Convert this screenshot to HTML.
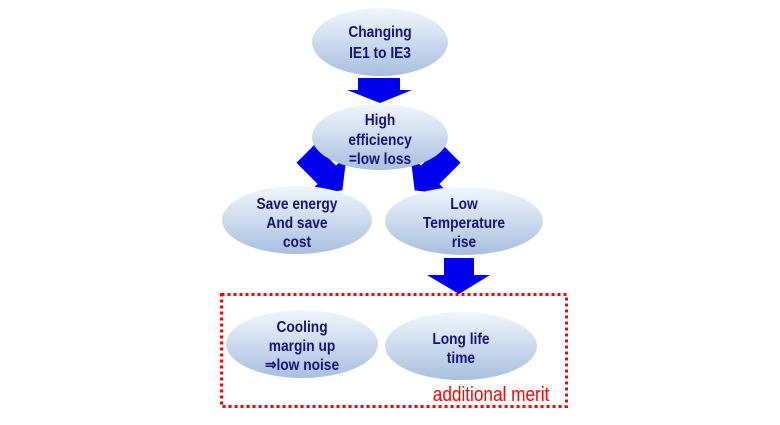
<!DOCTYPE html>
<html><head><style>
body{margin:0;width:780px;height:420px;background:#fff;overflow:hidden}
text{font-family:"Liberation Sans",sans-serif;font-weight:bold;font-size:16px;fill:#14147a;text-anchor:middle}
</style></head><body>
<svg width="780" height="420" viewBox="0 0 780 420">
<defs>
<linearGradient id="g" x1="0" y1="0" x2="0" y2="1">
<stop offset="0" stop-color="#f2f6fb"/><stop offset="1" stop-color="#a8bfdf"/>
</linearGradient>
<g id="ar"><polygon points="-13,-26 13,-26 13,4 28,4 0,26 -28,4 -13,4" fill="#0000ee"/></g>
</defs>
<g transform="translate(324,172) rotate(-45)"><use href="#ar"/></g>
<g transform="translate(433,172) rotate(45)"><use href="#ar"/></g>
<ellipse cx="380" cy="42" rx="68" ry="34" fill="url(#g)"/>
<ellipse cx="380" cy="137" rx="68" ry="33" fill="url(#g)"/>
<ellipse cx="297" cy="220" rx="75" ry="34" fill="url(#g)"/>
<ellipse cx="464" cy="221" rx="79" ry="34" fill="url(#g)"/>
<ellipse cx="302" cy="344" rx="76" ry="34" fill="url(#g)"/>
<ellipse cx="461" cy="346" rx="76" ry="34" fill="url(#g)"/>
<polygon points="358,78 400,78 400,90 412,90 380,103 347,90 358,90" fill="#0000ee"/>
<polygon points="444,258 474,258 474,275 490,275 459,294 427,275 444,275" fill="#0000ee"/>
<rect x="221.5" y="294.5" width="345" height="112" fill="none" stroke="#ff0000" stroke-width="3" stroke-dasharray="3,3"/>
<g transform="scale(0.86,1)">
<text x="441.9" y="37">Changing</text><text x="441.9" y="58">IE1 to IE3</text>
<text x="441.9" y="125">High</text><text x="441.9" y="145">efficiency</text><text x="441.9" y="164">=low loss</text>
<text x="345.3" y="209">Save energy</text><text x="345.3" y="228">And save</text><text x="345.3" y="247">cost</text>
<text x="539.5" y="209">Low</text><text x="539.5" y="228">Temperature</text><text x="539.5" y="247">rise</text>
<text x="351.2" y="332">Cooling</text><text x="351.2" y="351">margin up</text><text x="351.2" y="370">⇒low noise</text>
<text x="536" y="344">Long life</text><text x="536" y="363">time</text>
<text x="571" y="401" style="fill:#ff0000;font-weight:normal;font-size:20px">additional merit</text>
</g>
</svg>
</body></html>
